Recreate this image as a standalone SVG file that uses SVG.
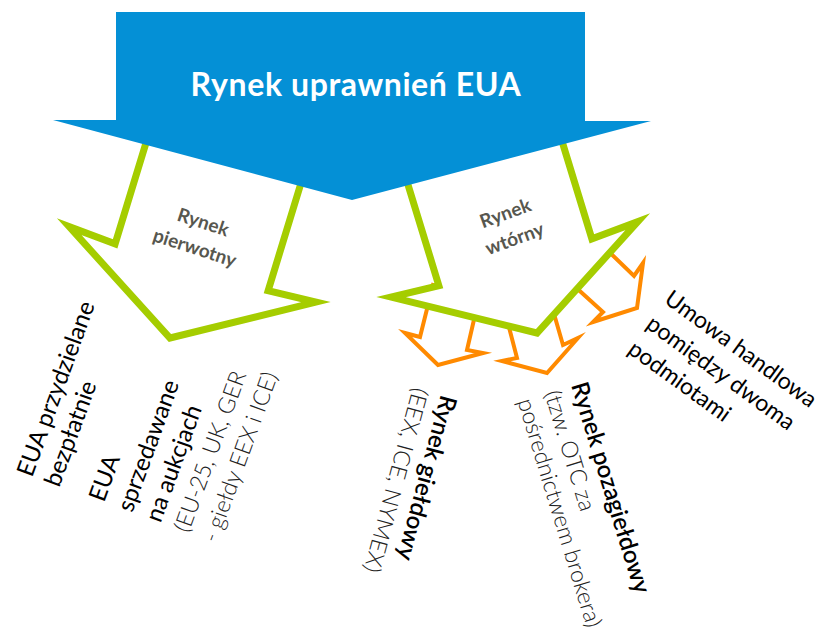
<svg xmlns="http://www.w3.org/2000/svg" width="829" height="637" viewBox="0 0 829 637">
<style>
.green{fill:#ffffff;stroke:#a5cd00;stroke-width:7;stroke-linejoin:miter;stroke-miterlimit:10}
.orange{fill:#ffffff;stroke:#ff8a00;stroke-width:4;stroke-linejoin:miter;stroke-miterlimit:10}
.lbl{font-family:Lato,"Liberation Sans",sans-serif;font-weight:700;font-size:19px;fill:#57574f}
.txt{font-family:Lato,"Liberation Sans",sans-serif;font-size:24px;fill:#000}
.semi{font-weight:600}
.light{font-weight:300;font-size:23px;fill:#222}
.um{font-size:23px}
</style>
<rect width="829" height="637" fill="#ffffff"/>
<g id="connectors">
  <polygon class="orange" points="433,285 420,337 405,333 438,365 483,353 467,350 479,298"/>
  <polygon class="orange" points="504,308 517,358 502,361 547,373 578,338 563,345 550,300"/>
  <polygon class="orange" points="603,246 634,276 643,263 637,308 593,322 603,312 571,283"/>
</g>
<g id="node-primary">
  <polygon class="green" transform="translate(170,338) rotate(17)" points="-80,-270 -80,-74 -129,-77 0,0 129,-77 80,-74 80,-270"/>
  <g transform="translate(199,235) rotate(18)">
    <text class="lbl" x="0" y="-7" text-anchor="middle">Rynek</text>
    <text class="lbl" x="0" y="20" text-anchor="middle">pierwotny</text>
  </g>
</g>
<g id="node-secondary">
  <polygon class="green" transform="translate(537,333) rotate(-17)" points="-80,-270 -80,-74 -129,-77 0,0 129,-77 80,-74 80,-270"/>
  <g transform="translate(510,226) rotate(-20)">
    <text class="lbl" x="0" y="-7" text-anchor="middle">Rynek</text>
    <text class="lbl" x="0" y="20" text-anchor="middle">wtórny</text>
  </g>
</g>
<g id="node-main">
  <polygon fill="#0490d6" points="116,12 585,12 585,121 651,121 352,200 53,120 116,120"/>
  <text x="356" y="96" text-anchor="middle" font-family="Lato,'Liberation Sans',sans-serif" font-weight="700" font-size="32" letter-spacing="0.6" fill="#ffffff">Rynek uprawnień EUA</text>
</g>
<g id="node-free">
  <g transform="translate(32,478) rotate(-70)">
    <text class="txt" x="0" y="0">EUA przydzielane</text>
    <text class="txt" x="0" y="29">bezpłatnie</text>
  </g>
</g>
<g id="node-auction">
  <g transform="translate(104,503) rotate(-70)">
    <text class="txt" x="0" y="0">EUA</text>
    <text class="txt" x="0" y="30">sprzedawane</text>
    <text class="txt" x="0" y="60">na aukcjach</text>
    <text class="txt light" x="0" y="90">(EU-25, UK, GER</text>
    <text class="txt light" x="0" y="120">- giełdy EEX i ICE)</text>
  </g>
</g>
<g id="node-exchange">
  <g transform="translate(441,394) rotate(105)">
    <text class="txt semi" x="0" y="0">Rynek giełdowy</text>
    <text class="txt light" x="0" y="29">(EEX, ICE, NYMEX)</text>
  </g>
</g>
<g id="node-otc">
  <g transform="translate(571,385) rotate(73)">
    <text class="txt semi" x="0" y="0">Rynek pozagiełdowy</text>
    <text class="txt light" x="0" y="28">(tzw. OTC za</text>
    <text class="txt light" x="0" y="56">pośrednictwem brokera)</text>
  </g>
</g>
<g id="node-bilateral">
  <g transform="translate(663,302) rotate(36)">
    <text class="txt um" x="0" y="0">Umowa handlowa</text>
    <text class="txt um" x="0" y="31">pomiędzy dwoma</text>
    <text class="txt um" x="0" y="62">podmiotami</text>
  </g>
</g>
</svg>
